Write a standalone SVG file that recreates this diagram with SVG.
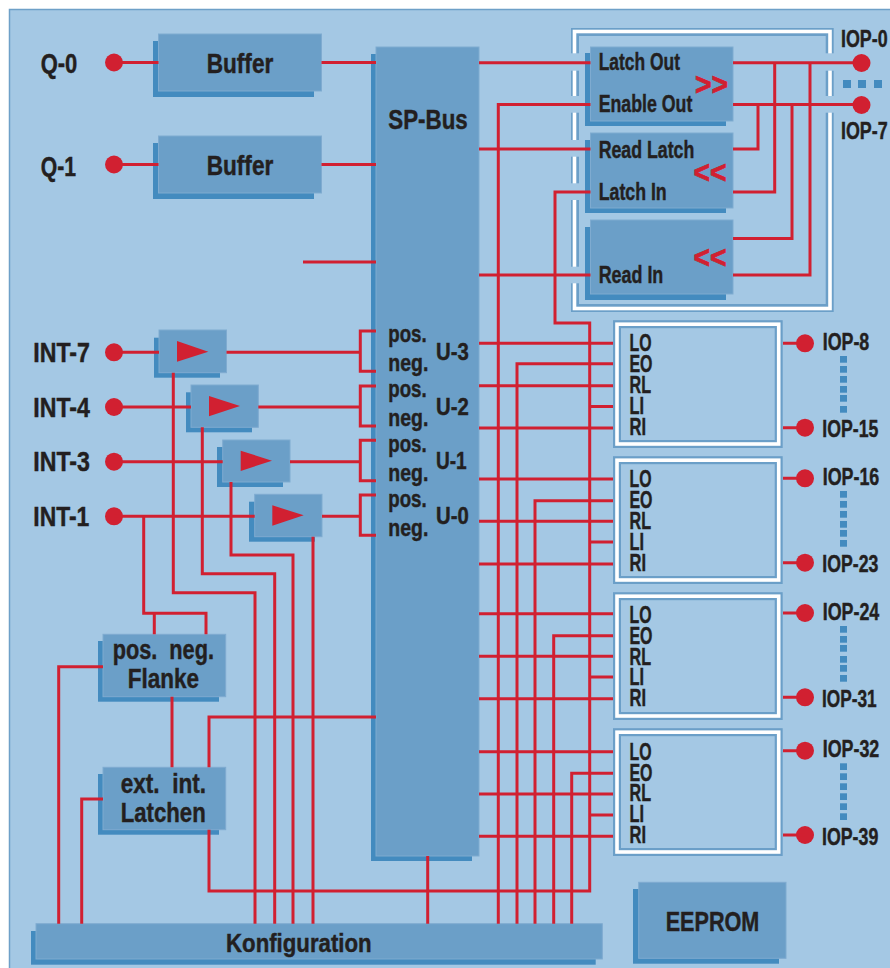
<svg xmlns="http://www.w3.org/2000/svg" width="890" height="968" viewBox="0 0 890 968">
<defs>
<style>
text{font-family:"Liberation Sans Narrow","Liberation Sans",Arial,sans-serif;font-weight:700;fill:#231f20;stroke:#231f20;stroke-width:.45}
.b{font-size:28px}.m{font-size:24px}
.sh{fill:#438bbf}
.main{fill:#6b9fc8;stroke:#7fabd0;stroke-width:1}
.fo{fill:none;stroke:#6b9fc8;stroke-width:8}
.fw{fill:none;stroke:#fff;stroke-width:3.6}
.gap{fill:#a4c8e4}
.dot{fill:#438bbf}
.pin{fill:#d12031}
.tri{fill:#d12031}
.chev{fill:#d12031;stroke:#d12031;stroke-width:.8;font-size:32px}
#connectors path{fill:none;stroke:#d12031;stroke-width:3;stroke-linejoin:miter}
</style>
</defs>
<rect width="890" height="968" fill="#fff"/>
<rect x="9.5" y="9.5" width="890" height="970" fill="#a4c8e4" stroke="#6ea0c8" stroke-width="1.5"/>

<g id="sp-bus"><rect class="sh" x="371" y="54" width="101" height="807"/><rect class="main" x="376" y="47" width="103" height="809"/>
<text class="b" x="388.3" y="129" textLength="79.4" lengthAdjust="spacingAndGlyphs">SP-Bus</text>
<text class="m" x="388.3" y="342.3" textLength="38.4" lengthAdjust="spacingAndGlyphs">pos.</text><text class="m" x="388.3" y="371" textLength="40" lengthAdjust="spacingAndGlyphs">neg.</text>
<text class="m" x="388.3" y="397.3" textLength="38.4" lengthAdjust="spacingAndGlyphs">pos.</text><text class="m" x="388.3" y="426" textLength="40" lengthAdjust="spacingAndGlyphs">neg.</text>
<text class="m" x="388.3" y="452.3" textLength="38.4" lengthAdjust="spacingAndGlyphs">pos.</text><text class="m" x="388.3" y="481" textLength="40" lengthAdjust="spacingAndGlyphs">neg.</text>
<text class="m" x="388.3" y="507" textLength="38.4" lengthAdjust="spacingAndGlyphs">pos.</text><text class="m" x="388.3" y="536" textLength="40" lengthAdjust="spacingAndGlyphs">neg.</text>
<text class="m" x="436" y="360" textLength="32.7" lengthAdjust="spacingAndGlyphs">U-3</text><text class="m" x="436" y="415" textLength="32.7" lengthAdjust="spacingAndGlyphs">U-2</text>
<text class="m" x="436" y="469" textLength="30.7" lengthAdjust="spacingAndGlyphs">U-1</text><text class="m" x="436" y="524" textLength="32.7" lengthAdjust="spacingAndGlyphs">U-0</text>
</g>

<g id="q-0"><text class="b" x="40.7" y="73.3" textLength="36.6" lengthAdjust="spacingAndGlyphs">Q-0</text><circle class="pin" cx="114" cy="62.5" r="9"/></g>
<g id="q-1"><text class="b" x="40.7" y="175.5" textLength="35.3" lengthAdjust="spacingAndGlyphs">Q-1</text><circle class="pin" cx="114" cy="164.5" r="9"/></g>
<g id="buffer-0"><rect class="sh" x="153" y="41" width="161" height="56"/><rect class="main" x="158.5" y="34" width="163" height="57"/><text class="b" x="206.7" y="73.3" textLength="66.6" lengthAdjust="spacingAndGlyphs">Buffer</text></g>
<g id="buffer-1"><rect class="sh" x="153" y="143" width="161" height="56"/><rect class="main" x="158.5" y="136" width="163" height="57"/><text class="b" x="206.7" y="175.3" textLength="66.6" lengthAdjust="spacingAndGlyphs">Buffer</text></g>

<g id="int-7"><text class="b" x="33.3" y="362.3" textLength="56.7" lengthAdjust="spacingAndGlyphs">INT-7</text><circle class="pin" cx="114" cy="352.3" r="9"/></g>
<g id="int-4"><text class="b" x="33.3" y="417.3" textLength="56.7" lengthAdjust="spacingAndGlyphs">INT-4</text><circle class="pin" cx="114" cy="407" r="9"/></g>
<g id="int-3"><text class="b" x="33.3" y="471.3" textLength="56.7" lengthAdjust="spacingAndGlyphs">INT-3</text><circle class="pin" cx="114" cy="461.7" r="9"/></g>
<g id="int-1"><text class="b" x="33.3" y="526" textLength="56" lengthAdjust="spacingAndGlyphs">INT-1</text><circle class="pin" cx="114" cy="516.3" r="9"/></g>

<g id="amp-7"><rect class="sh" x="154" y="337.7" width="66" height="40"/><rect class="main" x="159" y="330" width="67.5" height="42.7"/><polygon class="tri" points="177,341 208.3,351.7 177,361.7"/></g>
<g id="amp-4"><rect class="sh" x="186" y="392.3" width="66" height="40"/><rect class="main" x="191" y="385" width="67.3" height="42.3"/><polygon class="tri" points="209,396 240,406 209,416.3"/></g>
<g id="amp-3"><rect class="sh" x="217" y="447" width="66" height="40"/><rect class="main" x="222.7" y="440" width="67.3" height="42"/><polygon class="tri" points="240.7,450.7 272,460.7 240.7,471"/></g>
<g id="amp-1"><rect class="sh" x="249" y="501.7" width="66" height="40"/><rect class="main" x="254.7" y="494.3" width="67.3" height="42.4"/><polygon class="tri" points="272.3,505.3 303.7,515.3 272.3,525.7"/></g>

<g id="flanke"><rect class="sh" x="98" y="641" width="121" height="60.7"/><rect class="main" x="103" y="634.3" width="122.7" height="62.4"/>
<text class="b" x="112.7" y="659.3" xml:space="preserve" textLength="101.3" lengthAdjust="spacingAndGlyphs">pos.  neg.</text><text class="b" x="127.7" y="687.7" textLength="71.3" lengthAdjust="spacingAndGlyphs">Flanke</text></g>
<g id="latchen"><rect class="sh" x="98" y="774" width="121" height="60.7"/><rect class="main" x="103" y="767.3" width="122.7" height="62.4"/>
<text class="b" x="120.7" y="792.7" xml:space="preserve" textLength="85.3" lengthAdjust="spacingAndGlyphs">ext.  int.</text><text class="b" x="120.7" y="821.7" textLength="85" lengthAdjust="spacingAndGlyphs">Latchen</text></g>
<g id="konfiguration"><rect class="sh" x="31" y="931" width="564.7" height="33.7"/><rect class="main" x="36" y="923.7" width="566.3" height="35.3"/><text class="m" x="226" y="951.7" style="font-size:26px" textLength="145.7" lengthAdjust="spacingAndGlyphs">Konfiguration</text></g>
<g id="eeprom"><rect class="sh" x="633" y="889" width="146" height="74.7"/><rect class="main" x="638.7" y="882.3" width="147.3" height="76"/><text class="b" x="665.7" y="930.7" textLength="93.6" lengthAdjust="spacingAndGlyphs">EEPROM</text></g>

<g id="output-group">
<rect class="fo" x="575" y="32" width="254.7" height="276"/><rect class="fw" x="574.5" y="31.5" width="255.5" height="277"/>
<rect class="gap" x="570" y="53.3" width="10" height="17.4"/><rect class="gap" x="570" y="96" width="10" height="16.7"/><rect class="gap" x="570" y="140" width="10" height="16.7"/><rect class="gap" x="570" y="183.3" width="10" height="16.7"/><rect class="gap" x="570" y="266.7" width="10" height="16.6"/>
<rect class="gap" x="825" y="53.3" width="10" height="17.4"/><rect class="gap" x="825" y="96" width="10" height="16.7"/>
<rect class="sh" x="585" y="53" width="141" height="73"/><rect class="main" x="590.5" y="47" width="142.5" height="74"/>
<rect class="sh" x="585" y="140" width="141" height="73"/><rect class="main" x="590.5" y="133" width="142.5" height="75"/>
<rect class="sh" x="585" y="227" width="141" height="73"/><rect class="main" x="590.5" y="220" width="142.5" height="74"/>
<text class="m" x="598.7" y="70" textLength="81.3" lengthAdjust="spacingAndGlyphs">Latch Out</text>
<text class="m" x="598.7" y="111.7" textLength="93.6" lengthAdjust="spacingAndGlyphs">Enable Out</text>
<text class="m" x="598.7" y="157.7" textLength="95.6" lengthAdjust="spacingAndGlyphs">Read Latch</text>
<text class="m" x="598.7" y="200" textLength="68" lengthAdjust="spacingAndGlyphs">Latch In</text>
<text class="m" x="598.7" y="283.3" textLength="64.6" lengthAdjust="spacingAndGlyphs">Read In</text>
<text class="chev" x="695" y="95" textLength="33" lengthAdjust="spacingAndGlyphs">&gt;&gt;</text>
<text class="chev" x="693.5" y="182.5" textLength="33" lengthAdjust="spacingAndGlyphs">&lt;&lt;</text>
<text class="chev" x="693.5" y="268" textLength="33" lengthAdjust="spacingAndGlyphs">&lt;&lt;</text>
<circle class="pin" cx="861.5" cy="63" r="9"/><circle class="pin" cx="861.5" cy="105" r="9"/>
<rect class="dot" x="843" y="80" width="8" height="8"/><rect class="dot" x="858" y="80" width="8" height="8"/><rect class="dot" x="874" y="80" width="8" height="8"/>
<text class="m" x="841" y="46.7" textLength="46.7" lengthAdjust="spacingAndGlyphs">IOP-0</text>
<text class="m" x="841" y="139" textLength="46.7" lengthAdjust="spacingAndGlyphs">IOP-7</text>
</g>

<g id="io-8">
<rect class="fo" x="617" y="324.2" width="161.7" height="119.8"/><rect class="fw" x="617" y="324.2" width="161.7" height="119.8"/>
<text class="m" x="629.5" y="350.7" textLength="22" lengthAdjust="spacingAndGlyphs">LO</text><text class="m" x="629.5" y="371.7" textLength="23" lengthAdjust="spacingAndGlyphs">EO</text><text class="m" x="629.5" y="392.7" textLength="21.5" lengthAdjust="spacingAndGlyphs">RL</text><text class="m" x="629.5" y="414" textLength="14.5" lengthAdjust="spacingAndGlyphs">LI</text><text class="m" x="629.5" y="435" textLength="16.5" lengthAdjust="spacingAndGlyphs">RI</text>
<circle class="pin" cx="805" cy="343.3" r="9"/><circle class="pin" cx="805" cy="427.7" r="9"/>
<text class="m" x="822.7" y="350" textLength="46.6" lengthAdjust="spacingAndGlyphs">IOP-8</text><text class="m" x="822.3" y="436.7" textLength="56" lengthAdjust="spacingAndGlyphs">IOP-15</text>
<rect class="dot" x="840" y="356" width="7" height="6.7"/><rect class="dot" x="840" y="366" width="7" height="6.7"/><rect class="dot" x="840" y="376" width="7" height="6.7"/><rect class="dot" x="840" y="386" width="7" height="6.7"/><rect class="dot" x="840" y="395" width="7" height="6.7"/><rect class="dot" x="840" y="406" width="7" height="6.7"/>
</g>
<g id="io-16">
<rect class="fo" x="617" y="460.2" width="161.7" height="119.8"/><rect class="fw" x="617" y="460.2" width="161.7" height="119.8"/>
<text class="m" x="629.5" y="486.7" textLength="22" lengthAdjust="spacingAndGlyphs">LO</text><text class="m" x="629.5" y="507.7" textLength="23" lengthAdjust="spacingAndGlyphs">EO</text><text class="m" x="629.5" y="528.7" textLength="21.5" lengthAdjust="spacingAndGlyphs">RL</text><text class="m" x="629.5" y="550" textLength="14.5" lengthAdjust="spacingAndGlyphs">LI</text><text class="m" x="629.5" y="571" textLength="16.5" lengthAdjust="spacingAndGlyphs">RI</text>
<circle class="pin" cx="805" cy="478.3" r="9"/><circle class="pin" cx="805" cy="562.7" r="9"/>
<text class="m" x="822.7" y="485" textLength="56.6" lengthAdjust="spacingAndGlyphs">IOP-16</text><text class="m" x="822.3" y="571.7" textLength="56" lengthAdjust="spacingAndGlyphs">IOP-23</text>
<rect class="dot" x="840" y="491" width="7" height="6.7"/><rect class="dot" x="840" y="501" width="7" height="6.7"/><rect class="dot" x="840" y="511" width="7" height="6.7"/><rect class="dot" x="840" y="521" width="7" height="6.7"/><rect class="dot" x="840" y="530" width="7" height="6.7"/><rect class="dot" x="840" y="540" width="7" height="6.7"/>
</g>
<g id="io-24">
<rect class="fo" x="617" y="596.2" width="161.7" height="119.8"/><rect class="fw" x="617" y="596.2" width="161.7" height="119.8"/>
<text class="m" x="629.5" y="622.7" textLength="22" lengthAdjust="spacingAndGlyphs">LO</text><text class="m" x="629.5" y="643.7" textLength="23" lengthAdjust="spacingAndGlyphs">EO</text><text class="m" x="629.5" y="664.7" textLength="21.5" lengthAdjust="spacingAndGlyphs">RL</text><text class="m" x="629.5" y="685.3" textLength="14.5" lengthAdjust="spacingAndGlyphs">LI</text><text class="m" x="629.5" y="706" textLength="16.5" lengthAdjust="spacingAndGlyphs">RI</text>
<circle class="pin" cx="805" cy="613" r="9"/><circle class="pin" cx="805" cy="697.3" r="9"/>
<text class="m" x="822.7" y="620" textLength="56.6" lengthAdjust="spacingAndGlyphs">IOP-24</text><text class="m" x="822" y="706.7" textLength="54.7" lengthAdjust="spacingAndGlyphs">IOP-31</text>
<rect class="dot" x="840" y="626" width="7" height="6.7"/><rect class="dot" x="840" y="636" width="7" height="6.7"/><rect class="dot" x="840" y="645" width="7" height="6.7"/><rect class="dot" x="840" y="656" width="7" height="6.7"/><rect class="dot" x="840" y="665" width="7" height="6.7"/><rect class="dot" x="840" y="675" width="7" height="6.7"/>
</g>
<g id="io-32">
<rect class="fo" x="617" y="732.2" width="161.7" height="119.8"/><rect class="fw" x="617" y="732.2" width="161.7" height="119.8"/>
<text class="m" x="629.5" y="760" textLength="22" lengthAdjust="spacingAndGlyphs">LO</text><text class="m" x="629.5" y="780.7" textLength="23" lengthAdjust="spacingAndGlyphs">EO</text><text class="m" x="629.5" y="801.3" textLength="21.5" lengthAdjust="spacingAndGlyphs">RL</text><text class="m" x="629.5" y="822" textLength="14.5" lengthAdjust="spacingAndGlyphs">LI</text><text class="m" x="629.5" y="843.3" textLength="16.5" lengthAdjust="spacingAndGlyphs">RI</text>
<circle class="pin" cx="805" cy="750.7" r="9"/><circle class="pin" cx="805" cy="835" r="9"/>
<text class="m" x="822.7" y="756.7" textLength="56.6" lengthAdjust="spacingAndGlyphs">IOP-32</text><text class="m" x="822" y="845" textLength="56.3" lengthAdjust="spacingAndGlyphs">IOP-39</text>
<rect class="dot" x="840" y="763.3" width="7" height="6.7"/><rect class="dot" x="840" y="773.3" width="7" height="6.7"/><rect class="dot" x="840" y="783.3" width="7" height="6.7"/><rect class="dot" x="840" y="793.3" width="7" height="6.7"/><rect class="dot" x="840" y="803.3" width="7" height="6.7"/><rect class="dot" x="840" y="813.3" width="7" height="6.7"/>
</g>

<g id="connectors">
<path d="M114 62.5H158.5M321.5 62.5H376M114 164.5H158.5M321.5 164.5H376M303 262H376"/>
<path d="M479 62.7H590.5M498.3 923.7V104.5H590.5M479 149H590.5M479 275H590.5M590.5 192H555V323H589.7V891H209V829.7"/>
<path d="M733 62.7H861M733 104.5H861M733 149H758V104.5M733 192H774.7V62.7M733 238.5H792V104.5M733 275H810V62.7"/>
<path d="M114 352.3H159M226.5 352.3H360.3M376 331H360.3V371.3H376M114 407H191M258.3 407H360.3M376 386H360.3V426H376M114 461.7H222.7M290 461.7H360.3M376 440.3H360.3V480.7H376M114 516.3H254.7M322 516.3H360.3M376 495H360.3V535.3H376"/>
<path d="M173.3 372.7V592.7H255V923.7M202.3 427.3V573.7H274.7V923.7M231 482V555H293V923.7M313 536.7V923.7"/>
<path d="M143.7 516.3V613.3H206V634.3M154.3 613.3V634.3M103 666.7H58.7V923.7M103 799H81.7V923.7M172 696.7V767.3M209 767.3V717H376M427.7 856V923.7"/>
<path d="M517 923.7V363.7H613M535 923.7V500.7H613M553.7 923.7V635.7H613M571.7 923.7V773.3H613"/>
<path d="M479 343.3H613M479 385.7H613M479 428H613M479 479H613M479 521.3H613M479 564H613M479 613.7H613M479 656.3H613M479 698.7H613M479 751.7H613M479 794H613M479 836.3H613"/>
<path d="M589.7 406.5H613M589.7 542H613M589.7 677H613M589.7 815H613"/>
<path d="M783 343.3H805M783 427.7H805M783 478.3H805M783 562.7H805M783 613H805M783 697.3H805M783 750.7H805M783 835H805"/>
</g>
</svg>
